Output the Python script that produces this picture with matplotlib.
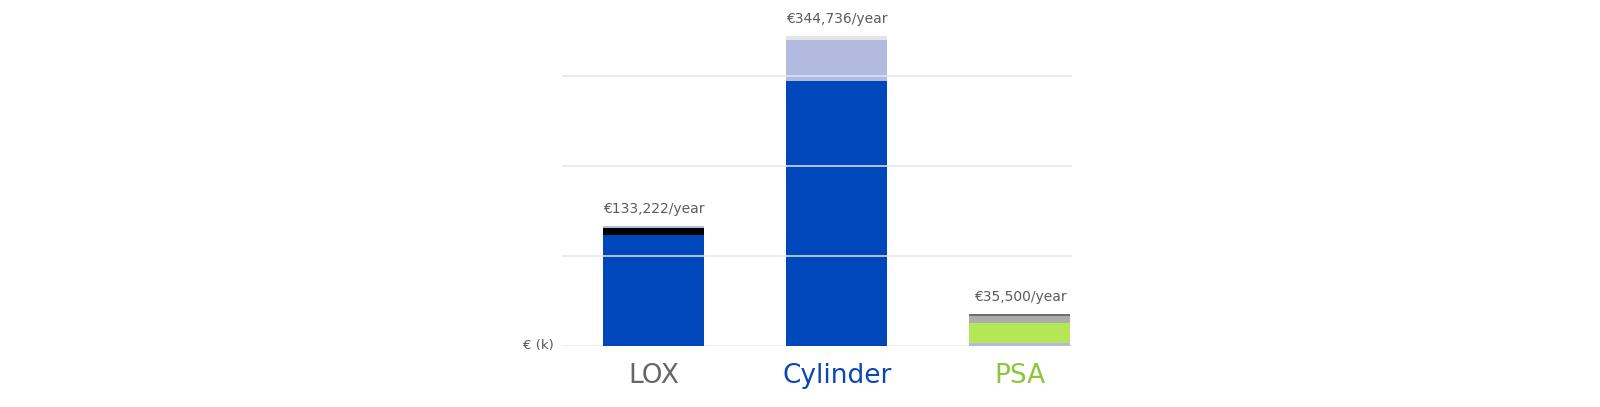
import matplotlib
matplotlib.use("Agg")
import matplotlib.pyplot as plt

# yearly cost per supply option, stacked parts in € (k), bottom to top
categories = ["LOX", "Cylinder", "PSA"]
lox_parts = [123.0, 7.6, 2.6]
cylinder_parts = [294.5, 46.0, 4.2]
psa_parts = [3.6, 21.9, 8.3, 1.7]
totals = [133222, 344736, 35500]
grid_values = [100, 200, 300]

part_colors = [
    ["#0047bb", "#000000", "#b2badf"],
    ["#0047bb", "#b2badf", "#e2e4e6"],
    ["#b2badf", "#b5e655", "#acacac", "#6e6e6e"],
]
label_colors = ["#666666", "#0a46b4", "#8cc63f"]

fig = plt.figure(figsize=(16, 4.07), dpi=100)
ax = fig.add_axes([562 / 1600, 61 / 407, 510 / 1600, 346 / 407])

bar_width = 0.551
for i, parts in enumerate([lox_parts, cylinder_parts, psa_parts]):
    bottom = 0
    for value, color in zip(parts, part_colors[i]):
        ax.bar(i, value, bottom=bottom, width=bar_width, color=color,
               linewidth=0, zorder=2)
        bottom += value
    ax.annotate(f"€{totals[i]:,}/year", (i, bottom), xytext=(0, 9.5),
                textcoords="offset points", ha="center", va="baseline",
                fontsize=10, color="#5c5c5c")

# light grid lines run over the bars
for g in grid_values:
    ax.axhline(g, color="#e2e5ee", linewidth=1.1, zorder=3)
ax.axhline(0, color="#e6e6e6", linewidth=1.1, zorder=1)

ax.set_xlim(-0.499, 2.284)
ax.set_ylim(0, 384.4)
ax.set_xticks(range(len(categories)))
ax.set_xticklabels(categories, fontsize=19)
for lbl, c in zip(ax.get_xticklabels(), label_colors):
    lbl.set_color(c)
ax.tick_params(axis="x", length=0, pad=12)
ax.set_yticks([])
for side in ax.spines.values():
    side.set_visible(False)

ax.text(-0.545, 0, "€ (k)", ha="right", va="center", fontsize=9.5,
        color="#555555", transform=ax.transData)

fig.savefig("out.png", dpi=100)
